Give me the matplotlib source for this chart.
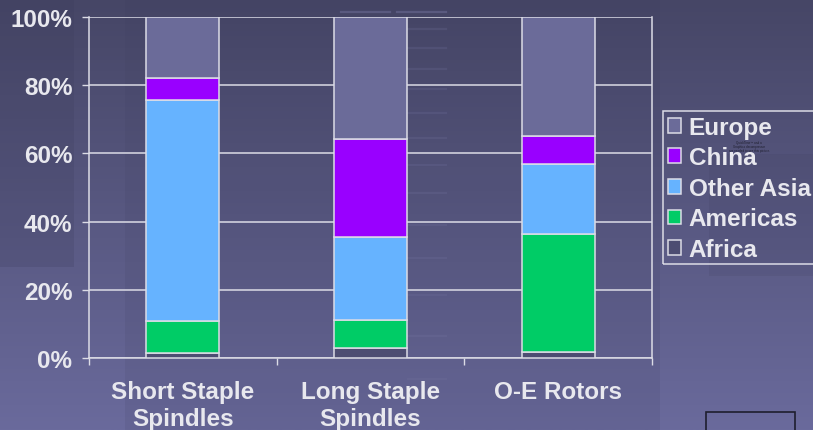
import numpy as np
import matplotlib
matplotlib.use("Agg")
import matplotlib.pyplot as plt
from matplotlib.patches import Rectangle

# Regional shares of installed capacity (percent)
categories = ["Short Staple\nSpindles", "Long Staple\nSpindles", "O-E Rotors"]
regions = ["Africa", "Americas", "Other Asia", "China", "Europe"]
africa = [1.4, 3.0, 1.9]
americas = [9.5, 8.1, 34.4]
other_asia = [64.8, 24.4, 20.6]
china = [6.5, 28.7, 8.2]
europe = [17.8, 35.8, 34.9]
tick_labels = ["0%", "20%", "40%", "60%", "80%", "100%"]

colors = {
    "Africa": "#4d4d72",
    "Americas": "#00cc66",
    "Other Asia": "#66b3ff",
    "China": "#9900ff",
    "Europe": "#6b6b99",
}
series = {
    "Africa": africa,
    "Americas": americas,
    "Other Asia": other_asia,
    "China": china,
    "Europe": europe,
}

plt.rcParams["font.family"] = ["Liberation Sans", "DejaVu Sans"]
plt.rcParams["font.weight"] = "bold"
text_color = "#e8e8ee"
line_color = "#dcdce6"
fs = 17.5

W, H = 813, 431
fig = plt.figure(figsize=(W / 100, H / 100), dpi=100)


def px_rect(x0, y0, x1, y1, **kw):
    """Rectangle given in pixel coords measured from the top-left corner."""
    return Rectangle((x0 / W, 1 - y1 / H), (x1 - x0) / W, (y1 - y0) / H, **kw)


# slide background: vertical gradient with template blocks
bg = fig.add_axes([0, 0, 1, 1], zorder=-10)
bg.set_axis_off()
grad = np.linspace(0, 1, 256)[:, None]
top = np.array([0x46, 0x46, 0x66]) / 255
bot = np.array([0x6a, 0x6a, 0x9c]) / 255
img = top[None, None, :] * (1 - grad[..., None]) + bot[None, None, :] * grad[..., None]
bg.imshow(img, aspect="auto", extent=[0, 1, 0, 1], origin="upper")
bg.add_patch(px_rect(0, 0, 74, 268, color="#3c3c5c", alpha=0.22, lw=0))
bg.add_patch(px_rect(125, 0, 660, 431, color="#3c3c5c", alpha=0.12, lw=0))
bg.add_patch(px_rect(709, 155, 813, 277, color="#3c3c5c", alpha=0.15, lw=0))
bg.add_patch(px_rect(706, 413, 795, 440, fill=False, ec="#1e1e2e", lw=1.2))
# faint template stripes
for y in [30, 49, 70, 90, 114, 139, 166, 194, 226, 259, 296, 337, 380]:
    bg.plot([408 / W, 446 / W], [1 - y / H] * 2, color="#7474a0", lw=1.6, alpha=0.22)
for x0, x1 in [(341, 390), (397, 446)]:
    bg.plot([x0 / W, x1 / W], [1 - 13 / H] * 2, color="#7474a0", lw=1.6, alpha=0.45)
# legend frame, running off the right edge of the slide
bg.add_patch(px_rect(663, 112, 840, 265, fill=False, ec=line_color, lw=1.1))
bg.set_xlim(0, 1)
bg.set_ylim(0, 1)

ax = fig.add_axes([89 / W, 72 / H, 563 / W, 341 / H])
ax.set_facecolor("none")

x = np.arange(len(categories))
bottom = np.zeros(len(categories))
handles = {}
for name in regions:
    vals = np.array(series[name])
    h = ax.bar(x, vals, width=0.39, bottom=bottom, color=colors[name],
               edgecolor=line_color, linewidth=1.1, zorder=3)
    handles[name] = h
    bottom += vals

ax.set_xlim(-0.5, 2.5)
ax.set_ylim(0, 100)
ax.set_yticks(np.arange(0, 101, 20))
ax.set_yticklabels(tick_labels)
ax.yaxis.grid(True, color=line_color, linewidth=1.1, zorder=0)
ax.set_axisbelow(True)

ax.set_xticks([-0.5, 0.5, 1.5, 2.5])
ax.set_xticklabels([])
ax.set_xticks(x, minor=True)
ax.set_xticklabels(categories, minor=True)
ax.tick_params(axis="x", which="major", length=5, color=line_color, width=1)
ax.tick_params(axis="x", which="minor", length=0, pad=16, labelsize=fs,
               labelcolor=text_color)
ax.tick_params(axis="y", length=5, color=line_color, width=1, pad=7,
               labelsize=fs, labelcolor=text_color)
for lbl in ax.get_xticklabels(minor=True):
    lbl.set_linespacing(1.2)

for side in ["left", "right", "bottom"]:
    ax.spines[side].set_color(line_color)
    ax.spines[side].set_linewidth(1.1)
ax.spines["top"].set_visible(False)

leg_order = ["Europe", "China", "Other Asia", "Americas", "Africa"]
leg = fig.legend([handles[n] for n in leg_order], leg_order,
                 loc="upper left", bbox_to_anchor=(663 / W, 1 - 112 / H),
                 borderaxespad=0, frameon=False, fontsize=fs,
                 handlelength=0.55, handleheight=0.55, handletextpad=0.3,
                 labelspacing=0.31, borderpad=0.2)
for t in leg.get_texts():
    t.set_color(text_color)

fig.text(749 / W, 1 - 147 / H,
         "QuickTime\u2122 and a\nGraphics decompressor\nare needed to see this picture.",
         fontsize=2.2, color="#202030", ha="center", va="center",
         fontweight="normal", linespacing=1.0)

fig.savefig("out.png", dpi=100)
